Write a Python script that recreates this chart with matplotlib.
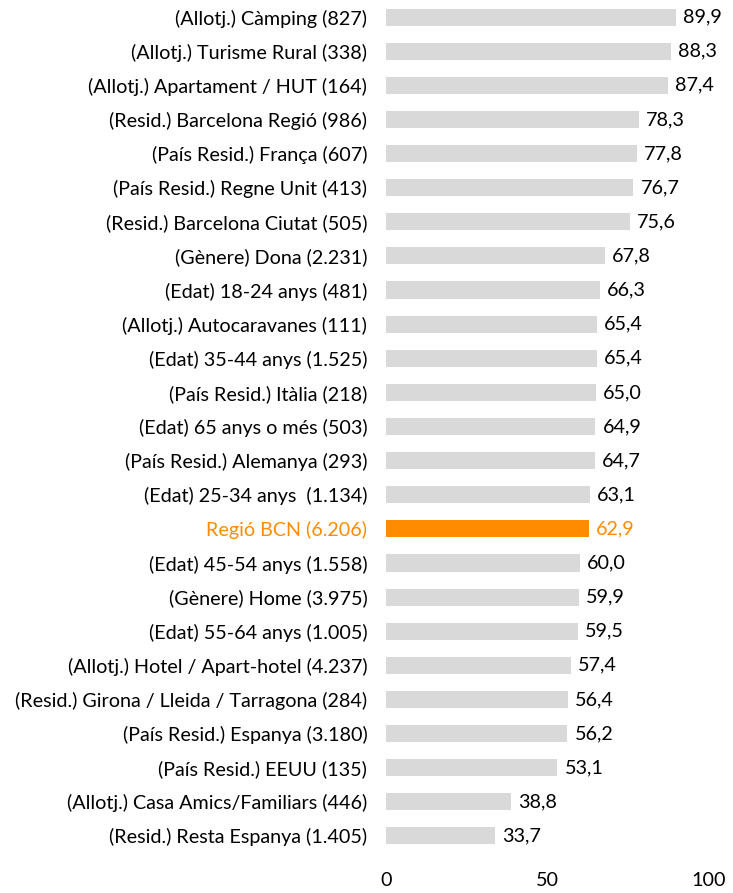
import matplotlib
matplotlib.use("Agg")
import matplotlib.pyplot as plt

categories = [
    "(Allotj.) Càmping (827)",
    "(Allotj.) Turisme Rural (338)",
    "(Allotj.) Apartament / HUT (164)",
    "(Resid.) Barcelona Regió (986)",
    "(País Resid.) França (607)",
    "(País Resid.) Regne Unit (413)",
    "(Resid.) Barcelona Ciutat (505)",
    "(Gènere) Dona (2.231)",
    "(Edat) 18-24 anys (481)",
    "(Allotj.) Autocaravanes (111)",
    "(Edat) 35-44 anys (1.525)",
    "(País Resid.) Itàlia (218)",
    "(Edat) 65 anys o més (503)",
    "(País Resid.) Alemanya (293)",
    "(Edat) 25-34 anys  (1.134)",
    "Regió BCN (6.206)",
    "(Edat) 45-54 anys (1.558)",
    "(Gènere) Home (3.975)",
    "(Edat) 55-64 anys (1.005)",
    "(Allotj.) Hotel / Apart-hotel (4.237)",
    "(Resid.) Girona / Lleida / Tarragona (284)",
    "(País Resid.) Espanya (3.180)",
    "(País Resid.) EEUU (135)",
    "(Allotj.) Casa Amics/Familiars (446)",
    "(Resid.) Resta Espanya (1.405)",
]
values = [89.9, 88.3, 87.4, 78.3, 77.8, 76.7, 75.6, 67.8, 66.3, 65.4, 65.4, 65.0,
          64.9, 64.7, 63.1, 62.9, 60.0, 59.9, 59.5, 57.4, 56.4, 56.2, 53.1, 38.8, 33.7]
highlight = "Regió BCN (6.206)"
xticks = [0, 50, 100]

GRAY = "#D9D9D9"
ORANGE = "#FF8C00"

plt.rcParams['font.family'] = ['Lato', 'DejaVu Sans']
FS = 14.2

fig = plt.figure(figsize=(7.33, 8.93), dpi=100)
ax = fig.add_axes([386/733, 40/893, (708.6-386)/733, 853/893])

n = len(categories)
ypos = list(range(n))
colors = [ORANGE if c == highlight else GRAY for c in categories]
ax.barh(ypos, values, height=0.5, color=colors)
ax.set_ylim(n - 0.5, -0.5)
ax.set_xlim(0, 100)
ax.set_yticks(ypos)
ax.set_yticklabels(categories, fontsize=FS)
for lab, c in zip(ax.get_yticklabels(), categories):
    if c == highlight:
        lab.set_color(ORANGE)
ax.tick_params(axis='y', length=0, pad=13.5)
ax.set_xticks(xticks)
ax.set_xticklabels([str(t) for t in xticks], fontsize=FS)
ax.tick_params(axis='x', length=0, pad=14)
for s in ax.spines.values():
    s.set_visible(False)

for y, v, c in zip(ypos, values, categories):
    ax.text(v + 2.2, y, f"{v:.1f}".replace(".", ","), va='center', ha='left',
            fontsize=FS, color=ORANGE if c == highlight else 'black')

fig.savefig("out.png", dpi=100)
